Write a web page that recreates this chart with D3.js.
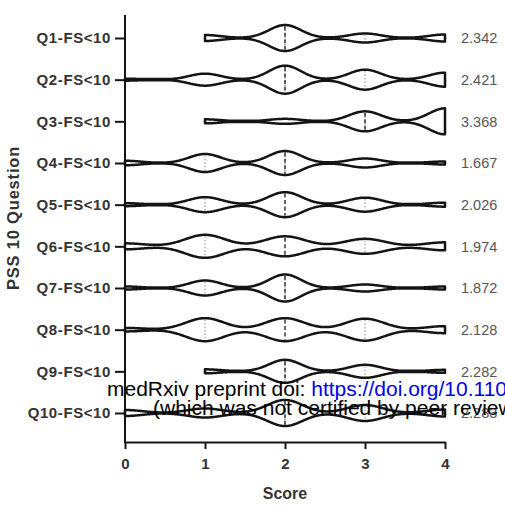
<!DOCTYPE html>
<html><head><meta charset="utf-8">
<script src="https://cdn.jsdelivr.net/npm/d3@7"></script>
<style>body{margin:0;background:#fff}svg{display:block}</style>
</head><body>
<svg id="c" width="505" height="513"></svg>
<script>
// ---- data ----
const questions = ["Q1-FS<10","Q2-FS<10","Q3-FS<10","Q4-FS<10","Q5-FS<10","Q6-FS<10","Q7-FS<10","Q8-FS<10","Q9-FS<10","Q10-FS<10"];
const scores = [0, 1, 2, 3, 4];
// relative density (% of responses) at each score 0..4
const q1  = [0, 12, 52, 18, 14];
const q2  = [4, 24, 56, 40, 28];
const q3  = [0, 8, 10, 40, 52];
const q4  = [9, 36, 48, 18, 6];
const q5  = [6, 30, 50, 28, 8];
const q6  = [12, 46, 40, 30, 16];
const q7  = [6, 30, 54, 14, 6];
const q8  = [7, 46, 46, 44, 14];
const q9  = [0, 8, 46, 26, 6];
const q10 = [12, 18, 52, 32, 14];
const densities = [q1, q2, q3, q4, q5, q6, q7, q8, q9, q10];
const bandwidths = [0.2, 0.2, 0.2, 0.2, 0.21, 0.25, 0.2, 0.24, 0.2, 0.22];
const quartile1 = [2, 2, 3, 1, 1, 1, 1, 1, 2, 2];
const medians   = [2, 2, 3, 2, 2, 2, 2, 2, 2, 2];
const quartile3 = [3, 3, 4, 2, 3, 3, 2, 3, 3, 3];
const meanLabels = ["2.342","2.421","3.368","1.667","2.026","1.974","1.872","2.128","2.282","2.283"];
const xTicks = [0, 1, 2, 3, 4];

// ---- layout ----
const FONT = "Liberation Sans, Arial, sans-serif";
const svg = d3.select("#c");
const x = d3.scaleLinear().domain([0, 4]).range([125, 445]);
const y = d3.scalePoint().domain(questions).range([38, 413]);
const w = d3.scaleLinear().domain([0, 60]).range([0, 15]);
const ink = "#141414";

// violins
const grid = d3.range(0, 4.0001, 0.01);
densities.forEach((dens, i) => {
  const bw = bandwidths[i];
  const nz = scores.filter((s, k) => dens[k] > 0);
  const lo = d3.min(nz), hi = d3.max(nz);
  const f = v => d3.sum(scores, (s, k) => dens[k] * Math.exp(-0.5 * Math.pow((v - s) / bw, 2)));
  const pts = grid.filter(v => v >= lo - 1e-9 && v <= hi + 1e-9).map(v => [v, Math.max(w(f(v)), 0.6)]);
  const cy = y(questions[i]);
  const area = d3.area().x(d => x(d[0])).y0(d => cy + d[1]).y1(d => cy - d[1]).curve(d3.curveLinear);
  const g = svg.append("g");
  g.append("path").attr("d", area(pts) + "Z")
    .attr("fill", "#fff").attr("stroke", ink).attr("stroke-width", 2.5).attr("stroke-linejoin", "round");
  const hw = v => Math.max(w(f(v)) - 1.3, 0);
  [quartile1[i], quartile3[i]].forEach(q => {
    if (q <= lo || q >= hi) return;
    g.append("line").attr("x1", x(q)).attr("x2", x(q)).attr("y1", cy - hw(q)).attr("y2", cy + hw(q))
      .attr("stroke", "#9a9a9a").attr("stroke-width", 1.2).attr("stroke-dasharray", "1.5,2");
  });
  const m = medians[i];
  g.append("line").attr("x1", x(m)).attr("x2", x(m)).attr("y1", cy - hw(m)).attr("y2", cy + hw(m))
    .attr("stroke", "#333").attr("stroke-width", 1.5).attr("stroke-dasharray", "4,2.5");
  // mean label
  svg.append("text").attr("x", 461).attr("y", cy).attr("dy", "0.36em")
    .attr("font-family", FONT).attr("font-size", 14.5)
    .attr("fill", "#555").text(meanLabels[i]);
});

// y axis
const yAxis = svg.append("g").attr("transform", "translate(125,0)")
  .call(d3.axisLeft(y).tickSize(10).tickPadding(4));
yAxis.select(".domain").remove();
yAxis.selectAll(".tick line").attr("stroke", ink).attr("stroke-width", 2);
yAxis.selectAll(".tick text").attr("font-family", FONT).attr("letter-spacing", "0.6px")
  .attr("font-size", 15).attr("font-weight", "bold").attr("fill", "#333");
svg.append("line").attr("x1", 125).attr("x2", 125).attr("y1", 15).attr("y2", 443)
  .attr("stroke", ink).attr("stroke-width", 2);

// x axis
const xAxis = svg.append("g").attr("transform", "translate(0,442)")
  .call(d3.axisBottom(x).tickValues(xTicks).tickFormat(d3.format("d")).tickSize(7).tickPadding(9).tickSizeOuter(0));
xAxis.select(".domain").attr("stroke", ink).attr("stroke-width", 2);
xAxis.selectAll(".tick line").attr("stroke", ink).attr("stroke-width", 2);
xAxis.selectAll(".tick text").attr("font-family", FONT)
  .attr("font-size", 15).attr("font-weight", "bold").attr("fill", "#333");

// axis titles
svg.append("text").attr("x", 285).attr("y", 499).attr("text-anchor", "middle")
  .attr("font-family", FONT).attr("font-size", 16)
  .attr("font-weight", "bold").attr("fill", "#333").text("Score");
svg.append("text").attr("transform", "translate(19,218) rotate(-90)").attr("text-anchor", "middle")
  .attr("font-family", FONT).attr("font-size", 16.5).attr("letter-spacing", "0.8px")
  .attr("font-weight", "bold").attr("fill", "#333").text("PSS 10 Question");

// overlaid preprint notice
const note = svg.append("g").attr("font-family", FONT).attr("font-size", 21);
const t1 = note.append("text").attr("x", 107).attr("y", 396);
t1.append("tspan").attr("fill", "#000").text("medRxiv preprint doi: ");
t1.append("tspan").attr("fill", "#0000ee").text("https://doi.org/10.1101/2021.00.00.00000000");
note.append("text").attr("x", 153).attr("y", 415).attr("fill", "#000")
  .text("(which was not certified by peer review)");
</script>
</body></html>
